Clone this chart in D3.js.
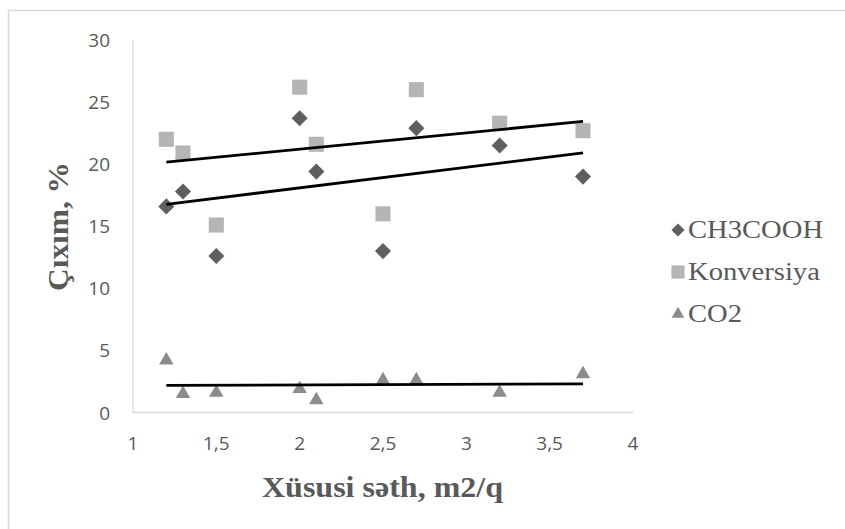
<!DOCTYPE html>
<html>
<head>
<meta charset="utf-8">
<script src="https://cdnjs.cloudflare.com/ajax/libs/d3/7.8.5/d3.min.js"></script>
<style>
  html, body { margin: 0; padding: 0; background: #fff; }
  svg { display: block; }
</style>
</head>
<body>
<script>
const xValues = [1.2, 1.3, 1.5, 2.0, 2.1, 2.5, 2.7, 3.2, 3.7];
const ch3coohValues = [16.6, 17.8, 12.6, 23.7, 19.4, 13.0, 22.9, 21.5, 19.0];
const konversiyaValues = [22.0, 20.9, 15.1, 26.2, 21.6, 16.0, 26.0, 23.3, 22.7];
const co2Values = [4.2, 1.5, 1.6, 1.9, 1.0, 2.6, 2.6, 1.6, 3.1];
const seriesNames = ["CH3COOH", "Konversiya", "CO2"];
const xTicks = [1, 1.5, 2, 2.5, 3, 3.5, 4];
const yTicks = [0, 5, 10, 15, 20, 25, 30];
const xTitle = "Xüsusi səth, m2/q";
const yTitle = "Çıxım, %";

const W = 845, H = 529;
const svg = d3.select("body").append("svg").attr("width", W).attr("height", H);

// outer border
svg.append("rect").attr("x", 8.5).attr("y", 10.5).attr("width", W).attr("height", H)
  .attr("fill", "none").attr("stroke", "#d9d9d9").attr("stroke-width", 1.5);

const x = d3.scaleLinear().domain([1, 4]).range([133, 633]);
const y = d3.scaleLinear().domain([0, 30]).range([412.5, 40]);

const tickFont = "'Open Sans', sans-serif";
const serif = "'Liberation Serif', 'Times New Roman', serif";
const textColor = "#595959";

// axes lines
svg.append("line").attr("x1", x(1)).attr("x2", x(4)).attr("y1", y(0)).attr("y2", y(0))
  .attr("stroke", "#d9d9d9").attr("stroke-width", 1.3);
svg.append("line").attr("x1", x(1)).attr("x2", x(1)).attr("y1", y(0)).attr("y2", y(30))
  .attr("stroke", "#d9d9d9").attr("stroke-width", 1.3);

const fmt = v => String(v).replace(".", ",");
svg.selectAll(".xt").data(xTicks).enter().append("text")
  .attr("x", d => x(d)).attr("y", 450)
  .attr("text-anchor", "middle").attr("font-family", tickFont).attr("font-size", 19)
  .attr("fill", textColor).text(fmt);
svg.selectAll(".yt").data(yTicks).enter().append("text")
  .attr("x", 110).attr("y", d => y(d) + 7)
  .attr("text-anchor", "end").attr("font-family", tickFont).attr("font-size", 19)
  .attr("fill", textColor).text(fmt);

// titles
svg.append("text").attr("x", 262).attr("y", 497)
  .attr("textLength", 241).attr("lengthAdjust", "spacingAndGlyphs")
  .attr("font-family", serif).attr("font-weight", "bold").attr("font-size", 29)
  .attr("fill", textColor).text(xTitle);
svg.append("text").attr("transform", "translate(68,291) rotate(-90)")
  .attr("textLength", 129).attr("lengthAdjust", "spacingAndGlyphs")
  .attr("font-family", serif).attr("font-weight", "bold").attr("font-size", 29)
  .attr("fill", textColor).text(yTitle);

const series = [
  { name: seriesNames[0], values: ch3coohValues, symbol: d3.symbolDiamond2, size: 165, color: "#5f5f5f" },
  { name: seriesNames[1], values: konversiyaValues, symbol: d3.symbolSquare2, size: 290, color: "#b5b5b5" },
  { name: seriesNames[2], values: co2Values, symbol: d3.symbolTriangle2, size: 150, color: "#8c8c8c" }
];

function fit(xs, ys) {
  const mx = d3.mean(xs), my = d3.mean(ys);
  let sxy = 0, sxx = 0;
  xs.forEach((xv, i) => { sxy += (xv - mx) * (ys[i] - my); sxx += (xv - mx) * (xv - mx); });
  const b = sxy / sxx, a = my - b * mx;
  return v => a + b * v;
}

const plot = svg.append("g");
series.forEach(s => {
  const pts = xValues.map((xv, i) => [xv, s.values[i]]);
  plot.append("g").selectAll("path").data(pts).enter().append("path")
    .attr("d", d3.symbol().type(s.symbol).size(s.size))
    .attr("transform", d => `translate(${x(d[0])},${y(d[1])})`)
    .attr("fill", s.color);
});
series.forEach(s => {
  const f = fit(xValues, s.values);
  const x0 = d3.min(xValues), x1 = d3.max(xValues);
  plot.append("line").attr("x1", x(x0)).attr("y1", y(f(x0))).attr("x2", x(x1)).attr("y2", y(f(x1)))
    .attr("stroke", "#000").attr("stroke-width", 2.8);
});

// legend
const legendSizes = [110, 220, 115];
const leg = svg.append("g");
series.forEach((s, i) => {
  const ly = 230 + i * 42;
  leg.append("path").attr("d", d3.symbol().type(s.symbol).size(legendSizes[i]))
    .attr("transform", `translate(678,${ly})`).attr("fill", s.color);
  leg.append("text").attr("transform", `translate(688,${ly + 8}) scale(1.1,1)`)
    .attr("font-family", serif)
    .attr("font-size", 26).attr("fill", textColor).text(s.name);
});
</script>
</body>
</html>
